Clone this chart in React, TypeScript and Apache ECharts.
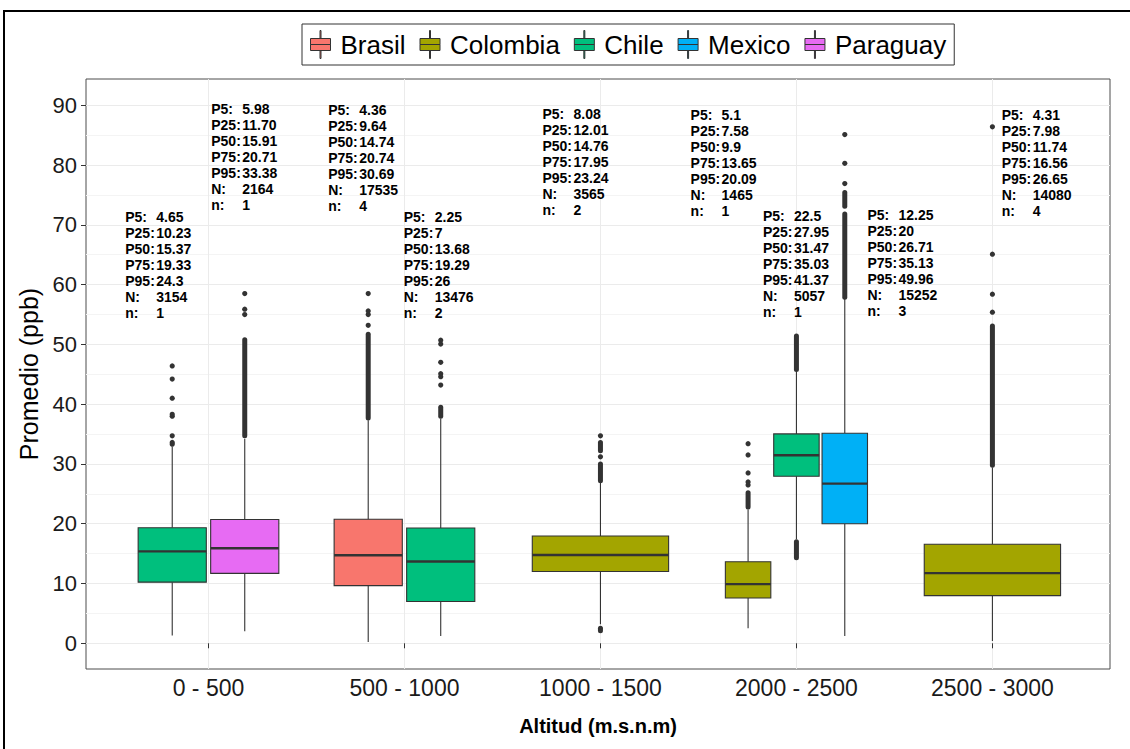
import React, { useEffect, useRef } from "react";
import * as echarts from "echarts";

const FONT = "'Liberation Sans', Arial, Helvetica, sans-serif";

// Axis categories and groups
const altitudeBands = ["0 - 500", "500 - 1000", "1000 - 1500", "2000 - 2500", "2500 - 3000"];
const countries = ["Brasil", "Colombia", "Chile", "Mexico", "Paraguay"];
const countryColors = ["#F8766D", "#A3A500", "#00BF7D", "#00B0F6", "#E76BF3"];

// One entry per box, in drawing order
const boxBand = [0, 0, 1, 1, 2, 3, 3, 3, 4];
const boxCountry = ["Chile", "Paraguay", "Brasil", "Chile", "Colombia", "Colombia", "Chile", "Mexico", "Colombia"];

// Summary statistics as printed next to each box
const p5 = ["4.65", "5.98", "4.36", "2.25", "8.08", "5.1", "22.5", "12.25", "4.31"];
const p25 = ["10.23", "11.70", "9.64", "7", "12.01", "7.58", "27.95", "20", "7.98"];
const p50 = ["15.37", "15.91", "14.74", "13.68", "14.76", "9.9", "31.47", "26.71", "11.74"];
const p75 = ["19.33", "20.71", "20.74", "19.29", "17.95", "13.65", "35.03", "35.13", "16.56"];
const p95 = ["24.3", "33.38", "30.69", "26", "23.24", "20.09", "41.37", "49.96", "26.65"];
const countN = ["3154", "2164", "17535", "13476", "3565", "1465", "5057", "15252", "14080"];
const countn = ["1", "1", "4", "2", "2", "1", "1", "3", "4"];

// Whisker ends
const whiskerLow = [1.3, 2.0, 0.2, 1.2, 3.2, 2.5, 17.4, 1.2, 0.4];
const whiskerHigh = [32.9, 34.2, 37.3, 37.6, 26.8, 22.4, 45.5, 57.7, 29.4];

// Individual outliers
const outlierPoints: number[][] = [
  [33.3, 33.6, 34.7, 38.0, 38.3, 41.0, 44.2, 46.4],
  [55.0, 55.9, 58.5],
  [53.2, 55.0, 55.6, 58.5],
  [43.2, 44.6, 45.1, 47.0, 50.05, 50.7],
  [31.2, 34.7],
  [26.5, 27.0, 28.5, 31.5, 33.4],
  [],
  [76.9, 80.3, 85.1],
  [55.4, 58.4, 65.1, 86.4],
];

// Stretches where outliers overlap into a solid column: [from, to]
const outlierRuns: number[][][] = [
  [],
  [[34.7, 50.8]],
  [[37.7, 51.7]],
  [[38.0, 39.5]],
  [[2.1, 2.5], [27.2, 30.0], [32.2, 33.6]],
  [[22.8, 25.2]],
  [[14.3, 17.0], [45.8, 51.4]],
  [[57.9, 71.8], [73.1, 75.4]],
  [[29.8, 53.1]],
];

const yTicks = [0, 10, 20, 30, 40, 50, 60, 70, 80, 90];
const yMinor = [5, 15, 25, 35, 45, 55, 65, 75, 85];

// Where each statistics block sits: horizontal shift (px) from the box centre,
// and the y value of its first line
const annotationSpot: [number, number][] = [
  [-47, 71.3],
  [-33.5, 89.35],
  [-40, 89.2],
  [-37, 71.3],
  [-58, 88.5],
  [-57.5, 88.45],
  [-33.5, 71.45],
  [22.7, 71.6],
  [9.3, 88.45],
];

// Dodge layout inside each altitude band
const DODGE = 0.74;
const bandCount = boxBand.map((b) => boxBand.filter((x) => x === b).length);
const bandRank = boxBand.map((b, i) => boxBand.slice(0, i).filter((x) => x === b).length);
const boxX = boxBand.map((b, i) => b + 1 - DODGE / 2 + (DODGE / bandCount[i]) * (bandRank[i] + 0.5));
const boxHalf = boxBand.map((_, i) => ((DODGE / bandCount[i]) * 0.94) / 2);

const INK = "#333333";

function statText(i: number): string {
  const rows: [string, string][] = [
    ["P5:", p5[i]],
    ["P25:", p25[i]],
    ["P50:", p50[i]],
    ["P75:", p75[i]],
    ["P95:", p95[i]],
    ["N:", countN[i]],
    ["n:", countn[i]],
  ];
  return rows.map(([k, v]) => `{k|${k}}{v|${v}}`).join("\n");
}

function drawBox(api: any, color: string) {
  const i = api.value(6);
  const x = api.value(0);
  const hw = boxHalf[i];
  const low = api.coord([x, api.value(1)]);
  const q1 = api.coord([x - hw, api.value(2)]);
  const med = api.coord([x, api.value(3)]);
  const q3 = api.coord([x + hw, api.value(4)]);
  const high = api.coord([x, api.value(5)]);
  const cx = low[0];
  const children: any[] = [];
  const whisker = { stroke: INK, lineWidth: 1.1 };
  children.push({ type: "line", shape: { x1: cx, y1: low[1], x2: cx, y2: q1[1] }, style: whisker });
  children.push({ type: "line", shape: { x1: cx, y1: q3[1], x2: cx, y2: high[1] }, style: whisker });
  children.push({
    type: "rect",
    shape: { x: q1[0], y: q3[1], width: q3[0] - q1[0], height: q1[1] - q3[1] },
    style: { fill: color, stroke: INK, lineWidth: 1.1 },
  });
  children.push({
    type: "line",
    shape: { x1: q1[0], y1: med[1], x2: q3[0], y2: med[1] },
    style: { stroke: INK, lineWidth: 2.4 },
  });
  outlierRuns[i].forEach(([a, b]) => {
    const pa = api.coord([x, a]);
    const pb = api.coord([x, b]);
    children.push({
      type: "line",
      shape: { x1: cx, y1: pa[1], x2: cx, y2: pb[1] },
      style: { stroke: INK, lineWidth: 5, lineCap: "round" },
    });
  });
  outlierPoints[i].forEach((v) => {
    const p = api.coord([x, v]);
    children.push({ type: "circle", shape: { cx, cy: p[1], r: 2.6 }, style: { fill: INK } });
  });
  const [dx, topVal] = annotationSpot[i];
  const t = api.coord([x, topVal]);
  const tok = { fontSize: 14, fontWeight: "bold", fontFamily: FONT, lineHeight: 16, fill: "#000" };
  children.push({
    type: "text",
    x: cx + dx,
    y: t[1] - 8,
    z2: 10,
    style: {
      text: statText(i),
      align: "left",
      verticalAlign: "top",
      fontSize: 14,
      fontWeight: "bold",
      fontFamily: FONT,
      lineHeight: 16,
      fill: "#000",
      rich: { k: { ...tok, width: 31 }, v: { ...tok } },
    },
  });
  return { type: "group", children };
}

const legendIcon =
  "path://M9.5,0L10.5,0L10.5,8L9.5,8Z M0,8L20,8L20,14L0,14Z M0,14L20,14L20,20L0,20Z M9.5,20L10.5,20L10.5,28L9.5,28Z";

export default function App() {
  const ref = useRef<HTMLDivElement>(null);

  useEffect(() => {
    if (!ref.current) return;
    const chart = echarts.init(ref.current, undefined, { renderer: "svg" });

    const series = countries.map((c, ci) => ({
      type: "custom",
      name: c,
      clip: false,
      itemStyle: { color: countryColors[ci] },
      encode: { x: 0, y: [1, 2, 3, 4, 5] },
      data: boxCountry
        .map((bc, i) =>
          bc === c ? [boxX[i], whiskerLow[i], Number(p25[i]), Number(p50[i]), Number(p75[i]), whiskerHigh[i], i] : null
        )
        .filter((d) => d !== null),
      renderItem: (_params: any, api: any) => drawBox(api, countryColors[ci]),
    }));

    chart.setOption({
      animation: false,
      backgroundColor: "#ffffff",
      textStyle: { fontFamily: FONT },
      graphic: [
        {
          type: "rect",
          silent: true,
          z: -10,
          shape: { x: 4, y: 11, width: 1140, height: 760 },
          style: { fill: "none", stroke: "#000", lineWidth: 2 },
        },
      ],
      legend: {
        data: countries,
        left: 302,
        top: 24,
        orient: "horizontal",
        icon: legendIcon,
        itemWidth: 20,
        itemHeight: 28,
        itemGap: 14,
        padding: [6, 8, 6, 8],
        borderColor: "#333",
        borderWidth: 1,
        selectedMode: false,
        itemStyle: { borderColor: INK, borderWidth: 1 },
        textStyle: { fontSize: 26, color: "#000", fontFamily: FONT, padding: [0, 0, 0, 5] },
      },
      grid: {
        left: 86,
        top: 79,
        width: 1024,
        height: 590,
        show: true,
        borderColor: "#4d4d4d",
        borderWidth: 1,
        backgroundColor: "transparent",
      },
      xAxis: {
        type: "value",
        min: 0.375,
        max: 5.6,
        axisLine: { show: false },
        axisTick: { show: true, length: 5, lineStyle: { color: INK }, customValues: [1, 2, 3, 4, 5] },
        axisLabel: {
          customValues: [1, 2, 3, 4, 5],
          formatter: (v: number) => altitudeBands[Math.round(v) - 1],
          fontSize: 23,
          color: "#1a1a1a",
          fontFamily: FONT,
          margin: 7,
        },
        splitLine: { show: true, lineStyle: { color: "#EBEBEB", width: 1 } },
        name: "Altitud (m.s.n.m)",
        nameLocation: "middle",
        nameGap: 47,
        nameTextStyle: { fontSize: 20, fontWeight: "bold", color: "#000", fontFamily: FONT },
      },
      yAxis: [
        {
          type: "value",
          min: -4.3,
          max: 94.4,
          axisLine: { show: false },
          axisTick: { show: true, length: 5, lineStyle: { color: INK }, customValues: yTicks },
          axisLabel: { customValues: yTicks, fontSize: 22, color: "#1a1a1a", margin: 9, fontFamily: FONT },
          splitLine: { show: true, lineStyle: { color: "#EBEBEB", width: 1 } },
          name: "Promedio (ppb)",
          nameLocation: "middle",
          nameGap: 44,
          nameTextStyle: { fontSize: 25, color: "#000", fontFamily: FONT },
        },
        {
          type: "value",
          min: -4.3,
          max: 94.4,
          position: "left",
          axisLine: { show: false },
          axisTick: { show: false, customValues: yMinor },
          axisLabel: { show: false, customValues: yMinor },
          splitLine: { show: true, lineStyle: { color: "#F4F4F4", width: 1 } },
        },
      ],
      series,
    });

    return () => chart.dispose();
  }, []);

  return (
    <div
      ref={ref}
      style={{ position: "fixed", left: 0, top: 0, width: 1130, height: 749, background: "#fff" }}
    />
  );
}
